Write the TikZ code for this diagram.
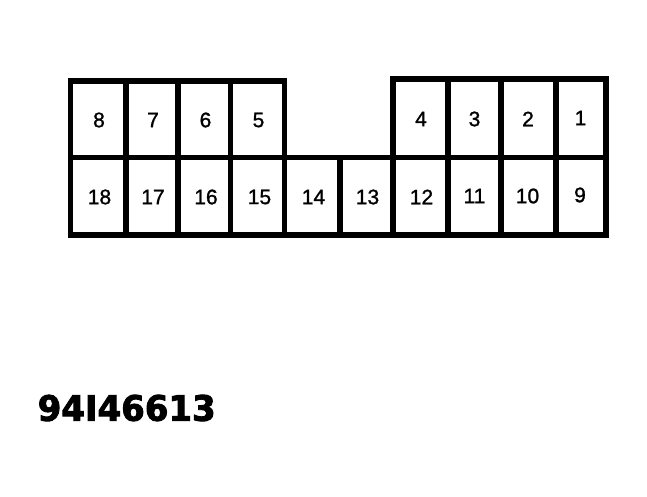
\documentclass[tikz,border=0pt]{standalone}
\usepackage{fontspec}
\usepackage{graphicx}
\setmainfont{Liberation Sans}
\newfontfamily\pinfont[FakeBold=1.2]{Liberation Sans}
\newfontfamily\heavyfont[FakeBold=2.5]{DejaVu Sans}
\begin{document}
\begin{tikzpicture}[x=1pt,y=-1pt,
  wall/.style={line width=5.5pt,line join=miter,line cap=rect},
  pin/.style={inner sep=0pt,font=\pinfont\fontsize{21}{21}\selectfont},
  code/.style={inner sep=0pt,anchor=west}]
\useasboundingbox (0,0) rectangle (647,497);
% outline
\draw[wall] (70.5,81) -- (284.5,81) -- (284.5,157.5) -- (393,157.5) -- (393,79)
  -- (606,79) -- (606,235) -- (70.5,235) -- cycle;
% middle line
\draw[wall] (70.5,157.5) -- (606,157.5);
% top row separators
\foreach \x in {126,178,230.5} \draw[wall] (\x,81) -- (\x,157.5);
\foreach \x in {448,501,556} \draw[wall] (\x,79) -- (\x,157.5);
% bottom row separators
\foreach \x in {126,178,230.5,284.5,340,393,448,501,556} \draw[wall] (\x,157.5) -- (\x,235);
% labels top
\node[pin] (p8) at (99,120) {8};
\node[pin] (p7) at (153,120) {7};
\node[pin] (p6) at (205.5,120) {6};
\node[pin] (p5) at (258.5,120) {5};
\node[pin] (p4) at (421,119) {4};
\node[pin] (p3) at (474.5,119) {3};
\node[pin] (p2) at (528,119) {2};
\node[pin] (p1) at (580.5,118) {1};
% labels bottom
\node[pin] (p18) at (99.5,197) {18};
\node[pin] (p17) at (153,197) {17};
\node[pin] (p16) at (206,197) {16};
\node[pin] (p15) at (259.5,197) {15};
\node[pin] (p14) at (313.5,197) {14};
\node[pin] (p13) at (367.5,197) {13};
\node[pin] (p12) at (421.5,197) {12};
\node[pin] (p11) at (474.5,196) {11};
\node[pin] (p10) at (527.5,196) {10};
\node[pin] (p9) at (580,195) {9};
% code
\node[code] (code) at (37.5,408) {\resizebox{178pt}{26pt}{\heavyfont\bfseries 94I46613}};
\end{tikzpicture}
\end{document}
